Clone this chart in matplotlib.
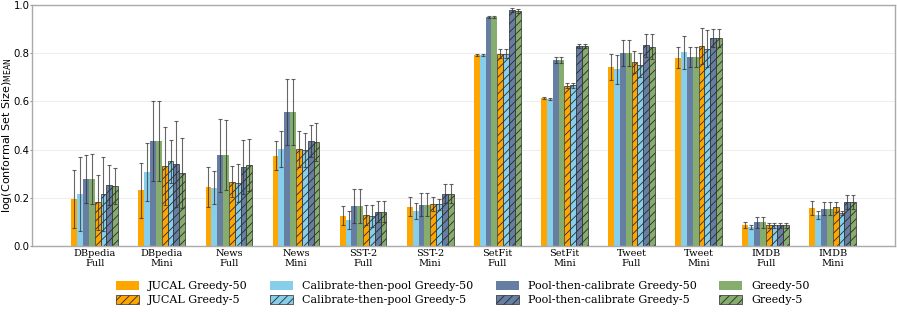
import numpy as np
import matplotlib
matplotlib.use("Agg")
import matplotlib.pyplot as plt
from matplotlib.patches import Patch

datasets = ["DBpedia\nFull", "DBpedia\nMini", "News\nFull", "News\nMini",
            "SST-2\nFull", "SST-2\nMini", "SetFit\nFull", "SetFit\nMini",
            "Tweet\nFull", "Tweet\nMini", "IMDB\nFull", "IMDB\nMini"]

# means
jucal_50 = [0.195, 0.231, 0.245, 0.375, 0.126, 0.162, 0.793, 0.613, 0.741, 0.781, 0.087, 0.158]
ctp_50 = [0.214, 0.307, 0.242, 0.402, 0.108, 0.145, 0.793, 0.610, 0.733, 0.804, 0.079, 0.129]
ptc_50 = [0.278, 0.436, 0.376, 0.555, 0.165, 0.170, 0.950, 0.773, 0.800, 0.783, 0.098, 0.155]
greedy_50 = [0.278, 0.436, 0.376, 0.555, 0.165, 0.170, 0.950, 0.773, 0.800, 0.783, 0.098, 0.155]
jucal_5 = [0.181, 0.331, 0.267, 0.402, 0.129, 0.173, 0.798, 0.665, 0.762, 0.829, 0.086, 0.162]
ctp_5 = [0.214, 0.351, 0.261, 0.397, 0.123, 0.173, 0.798, 0.667, 0.750, 0.819, 0.086, 0.137]
ptc_5 = [0.252, 0.339, 0.329, 0.434, 0.141, 0.216, 0.978, 0.829, 0.833, 0.862, 0.086, 0.183]
greedy_5 = [0.248, 0.302, 0.336, 0.430, 0.141, 0.216, 0.974, 0.829, 0.827, 0.862, 0.086, 0.183]

# standard deviations
jucal_50_err = [0.119, 0.115, 0.082, 0.060, 0.040, 0.040, 0.005, 0.005, 0.054, 0.043, 0.011, 0.030]
ctp_50_err = [0.154, 0.119, 0.070, 0.076, 0.037, 0.033, 0.005, 0.005, 0.060, 0.068, 0.008, 0.017]
ptc_50_err = [0.100, 0.166, 0.151, 0.138, 0.069, 0.048, 0.004, 0.012, 0.054, 0.041, 0.022, 0.028]
greedy_50_err = [0.103, 0.166, 0.145, 0.138, 0.069, 0.048, 0.004, 0.012, 0.054, 0.041, 0.022, 0.028]
jucal_5_err = [0.115, 0.162, 0.066, 0.076, 0.041, 0.029, 0.019, 0.010, 0.046, 0.075, 0.010, 0.021]
ctp_5_err = [0.154, 0.090, 0.078, 0.070, 0.046, 0.023, 0.019, 0.010, 0.050, 0.077, 0.010, 0.008]
ptc_5_err = [0.083, 0.178, 0.112, 0.066, 0.044, 0.039, 0.008, 0.008, 0.047, 0.037, 0.010, 0.030]
greedy_5_err = [0.075, 0.146, 0.107, 0.079, 0.044, 0.039, 0.008, 0.008, 0.053, 0.037, 0.010, 0.030]

labels = ["JUCAL Greedy-50", "Calibrate-then-pool Greedy-50", "Pool-then-calibrate Greedy-50", "Greedy-50",
          "JUCAL Greedy-5", "Calibrate-then-pool Greedy-5", "Pool-then-calibrate Greedy-5", "Greedy-5"]
means = [jucal_50, ctp_50, ptc_50, greedy_50, jucal_5, ctp_5, ptc_5, greedy_5]
errs = [jucal_50_err, ctp_50_err, ptc_50_err, greedy_50_err, jucal_5_err, ctp_5_err, ptc_5_err, greedy_5_err]
colors = ["#FFA500", "#87CEEB", "#667EA2", "#86AC6E"] * 2
hatched = [False] * 4 + [True] * 4

plt.rcParams["hatch.linewidth"] = 0.6
fig = plt.figure(figsize=(8.97, 3.12), dpi=100)
ax = fig.add_axes([0.036, 0.212, 0.962, 0.772])

x = np.arange(len(datasets))
w = 0.087
for k in range(8):
    pos = x + (k - 3.5) * w
    if hatched[k]:
        ax.bar(pos, means[k], w, color=colors[k], edgecolor="#2a2a2a", linewidth=0.5,
               hatch="////", zorder=2)
    else:
        ax.bar(pos, means[k], w, color=colors[k], linewidth=0, zorder=2)
    ax.errorbar(pos, means[k], yerr=errs[k], fmt="none", ecolor="#333333", alpha=0.75,
                elinewidth=0.8, capsize=1.2, capthick=0.8, zorder=3)

ax.set_xlim(-0.93, 11.93)
ax.set_ylim(0, 1.0)
ax.set_yticks([0.0, 0.2, 0.4, 0.6, 0.8, 1.0])
ax.set_xticks(x)
ax.set_xticklabels(datasets, family="DejaVu Serif", fontsize=7, linespacing=1.15)
ax.tick_params(axis="y", labelsize=7.3, length=1.5, color="#999999", pad=0.5)
ax.tick_params(axis="x", length=0, pad=2)
ax.set_ylabel(r"log(Conformal Set Size)$_{\rm MEAN}$", fontsize=8)
ax.yaxis.set_label_coords(-0.0209, 0.46)
ax.yaxis.grid(True, color="#eeeeee", linewidth=0.8, zorder=0)
ax.set_axisbelow(True)
for s in ax.spines.values():
    s.set_color("#aaaaaa")
    s.set_linewidth(1.0)

handles = []
order = [0, 4, 1, 5, 2, 6, 3, 7]
for k in order:
    if hatched[k]:
        handles.append(Patch(facecolor=colors[k], edgecolor="#2a2a2a", linewidth=0.5,
                             hatch="////", label=labels[k]))
    else:
        handles.append(Patch(facecolor=colors[k], linewidth=0, label=labels[k]))
fig.legend(handles=handles, loc="lower center", bbox_to_anchor=(0.516, -0.01), ncol=4,
           frameon=False, prop={"family": "DejaVu Serif", "size": 8.0},
           handlelength=2.1, handleheight=0.8, columnspacing=2.0, labelspacing=0.35)

fig.savefig("out.png", dpi=100)
